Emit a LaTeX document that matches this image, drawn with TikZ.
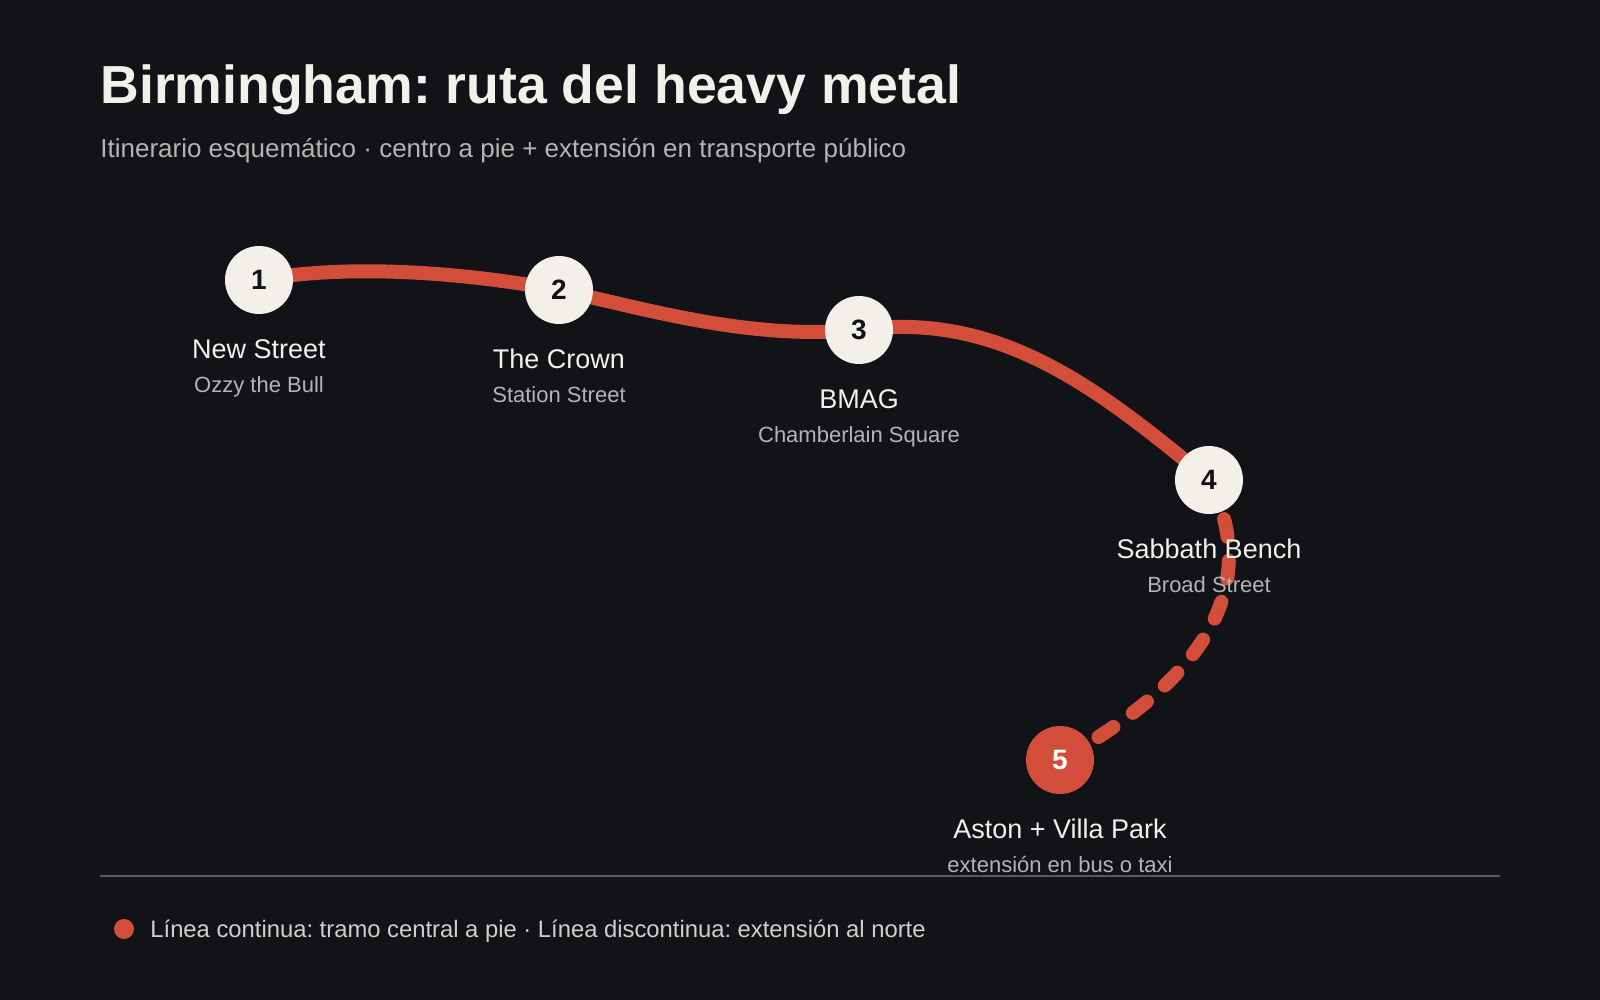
\documentclass[tikz,border=0pt]{standalone}
\usepackage{fontspec}
\setmainfont{Liberation Sans}
\frenchspacing
\definecolor{bg}{HTML}{121317}
\definecolor{rd}{HTML}{D24D3A}
\definecolor{cr}{HTML}{F3F0EA}
\definecolor{sub}{HTML}{B4B4B4}
\begin{document}
\begin{tikzpicture}[x=0.5pt,y=-0.5pt,
  stop/.style={circle,fill=cr,minimum size=34pt,inner sep=0pt,font=\bfseries\fontsize{14}{14}\selectfont,text=bg},
  nm/.style={font=\fontsize{13.5}{13.5}\selectfont,text=cr},
  sb/.style={font=\fontsize{11}{11}\selectfont,text=sub},
  route/.style={rd,line width=7pt,line cap=round}]
\fill[bg] (0,0) rectangle (1600,1000);
\useasboundingbox (0,0) rectangle (1600,1000);
\node[anchor=base west,inner sep=0pt,text=cr,font=\bfseries\fontsize{26.8}{26.8}\selectfont] (title) at (100,104) {Birmingham: ruta del heavy metal};
\node[anchor=base west,inner sep=0pt,text=sub,font=\fontsize{13}{13}\selectfont] (subt) at (100,158) {Itinerario esquemático · centro a pie + extensión en transporte público};
\coordinate (p1) at (259,280);
\coordinate (p2) at (559,290);
\coordinate (p3) at (859,330);
\coordinate (p4) at (1209,480);
\coordinate (p5) at (1060,760);
\draw[route] (p1) .. controls (340,265) and (450,270) .. (p2) .. controls (650,310) and (750,340) .. (p3) .. controls (1000,310) and (1100,390) .. (p4);
\draw[route,dash pattern=on 9pt off 12pt] (p4) .. controls (1250,560) and (1240,660) .. (p5);
\node[stop] (n1) at (p1) {1};
\node[stop] (n2) at (p2) {2};
\node[stop] (n3) at (p3) {3};
\node[stop] (n4) at (p4) {4};
\node[stop,fill=rd,text=white] (n5) at (p5) {5};
\foreach \p/\a/\b in {p1/New Street/Ozzy the Bull, p2/The Crown/Station Street, p3/BMAG/Chamberlain Square, p4/Sabbath Bench/Broad Street, p5/Aston + Villa Park/extensión en bus o taxi}{
  \node[nm,anchor=base] at ([yshift=-39pt]\p) {\a};
  \node[sb,anchor=base] at ([yshift=-56pt]\p) {\b};
}
\draw[color=white!30!bg,line width=1pt] (100,876) -- (1500,876);
\fill[rd] (124,929) circle (10);
\node[anchor=base west,inner sep=0pt,text=cr!85!bg,font=\fontsize{11.9}{11.9}\selectfont] (leg) at (150,937) {Línea continua: tramo central a pie · Línea discontinua: extensión al norte};
\end{tikzpicture}
\end{document}
